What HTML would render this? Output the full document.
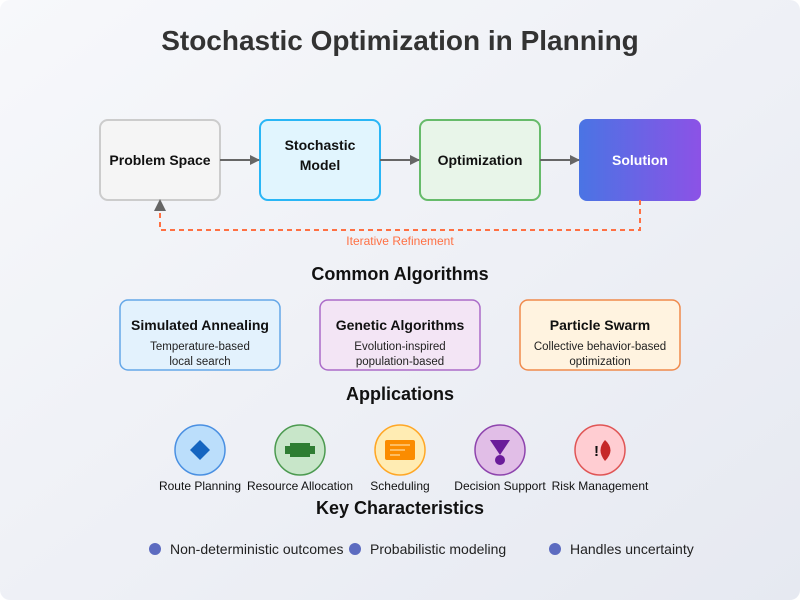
<!DOCTYPE html>
<html><head><meta charset="utf-8"><style>
body{margin:0;width:800px;height:600px;overflow:hidden;font-family:"Liberation Sans",sans-serif}
</style></head><body>
<svg width="800" height="600" xmlns="http://www.w3.org/2000/svg" font-family="Liberation Sans, sans-serif">
<defs>
<linearGradient id="bg" x1="0" y1="0" x2="1" y2="1"><stop offset="0" stop-color="#f7f8fb"/><stop offset="1" stop-color="#e6e9f1"/></linearGradient>
<linearGradient id="sol" x1="0" y1="0" x2="1" y2="0"><stop offset="0" stop-color="#4a74e4"/><stop offset="1" stop-color="#8c52e6"/></linearGradient>
<marker id="ar" markerWidth="10" markerHeight="10" refX="9" refY="5" orient="auto" markerUnits="userSpaceOnUse"><path d="M0,0 L10,5 L0,10z" fill="#666"/></marker>
</defs>
<rect width="800" height="600" rx="10" fill="url(#bg)"/>
<text x="400" y="50" text-anchor="middle" font-size="28" font-weight="bold" fill="#333">Stochastic Optimization in Planning</text>

<rect x="100" y="120" width="120" height="80" rx="8" fill="#f5f5f5" stroke="#ccc" stroke-width="2"/>
<text x="160" y="165" text-anchor="middle" font-size="14" font-weight="bold" fill="#111">Problem Space</text>
<rect x="260" y="120" width="120" height="80" rx="8" fill="#e1f5fe" stroke="#29b6f6" stroke-width="2"/>
<text x="320" y="150" text-anchor="middle" font-size="14" font-weight="bold" fill="#111">Stochastic</text>
<text x="320" y="170" text-anchor="middle" font-size="14" font-weight="bold" fill="#111">Model</text>
<rect x="420" y="120" width="120" height="80" rx="8" fill="#e8f5e9" stroke="#66bb6a" stroke-width="2"/>
<text x="480" y="165" text-anchor="middle" font-size="14" font-weight="bold" fill="#111">Optimization</text>
<rect x="579" y="119" width="122" height="82" rx="8" fill="url(#sol)"/>
<text x="640" y="165" text-anchor="middle" font-size="14" font-weight="bold" fill="#fff">Solution</text>

<g stroke="#666" stroke-width="2" marker-end="url(#ar)">
<line x1="220" y1="160" x2="259" y2="160"/>
<line x1="380" y1="160" x2="419" y2="160"/>
<line x1="540" y1="160" x2="579" y2="160"/>
</g>
<path d="M640,200 V230 H160 V210" fill="none" stroke="#ff7043" stroke-width="2" stroke-dasharray="5,4"/>
<path d="M154,211 L160,199 L166,211z" fill="#666"/>
<text x="400" y="245" text-anchor="middle" font-size="12" fill="#ff7043">Iterative Refinement</text>

<text x="400" y="280" text-anchor="middle" font-size="18" font-weight="bold" fill="#111">Common Algorithms</text>
<rect x="120" y="300" width="160" height="70" rx="8" fill="#e3f2fd" stroke="#64a7e8" stroke-width="1.5"/>
<text x="200" y="330" text-anchor="middle" font-size="14" font-weight="bold" fill="#111">Simulated Annealing</text>
<text x="200" y="350" text-anchor="middle" font-size="11.5" fill="#222">Temperature-based</text>
<text x="200" y="365" text-anchor="middle" font-size="11.5" fill="#222">local search</text>
<rect x="320" y="300" width="160" height="70" rx="8" fill="#f3e5f5" stroke="#ab6bc8" stroke-width="1.5"/>
<text x="400" y="330" text-anchor="middle" font-size="14" font-weight="bold" fill="#111">Genetic Algorithms</text>
<text x="400" y="350" text-anchor="middle" font-size="11.5" fill="#222">Evolution-inspired</text>
<text x="400" y="365" text-anchor="middle" font-size="11.5" fill="#222">population-based</text>
<rect x="520" y="300" width="160" height="70" rx="8" fill="#fff3e0" stroke="#f08a4b" stroke-width="1.5"/>
<text x="600" y="330" text-anchor="middle" font-size="14" font-weight="bold" fill="#111">Particle Swarm</text>
<text x="600" y="350" text-anchor="middle" font-size="11.5" fill="#222">Collective behavior-based</text>
<text x="600" y="365" text-anchor="middle" font-size="11.5" fill="#222">optimization</text>

<text x="400" y="400" text-anchor="middle" font-size="18" font-weight="bold" fill="#111">Applications</text>
<circle cx="200" cy="450" r="25" fill="#bbdefb" stroke="#4a90e2" stroke-width="1.5"/>
<path d="M200,440 L210,450 L200,460 L190,450z" fill="#1565c0"/>
<circle cx="300" cy="450" r="25" fill="#c8e6c9" stroke="#4c9a50" stroke-width="1.5"/>
<path d="M290,443 H310 V446 H315 V454 H310 V457 H290 V454 H285 V446 H290z" fill="#2e7d32"/>
<circle cx="400" cy="450" r="25" fill="#ffecb3" stroke="#ffa726" stroke-width="1.5"/>
<rect x="385" y="440" width="30" height="20" rx="2" fill="#fb8c00"/>
<g stroke="#ffcc80" stroke-width="1.5"><line x1="390" y1="445" x2="410" y2="445"/><line x1="390" y1="450" x2="405" y2="450"/><line x1="390" y1="455" x2="400" y2="455"/></g>
<circle cx="500" cy="450" r="25" fill="#e1bee7" stroke="#8e44ad" stroke-width="1.5"/>
<path d="M490,440 H510 L500,455z" fill="#6a1b9a"/><circle cx="500" cy="460" r="5" fill="#6a1b9a"/>
<circle cx="600" cy="450" r="25" fill="#ffcdd2" stroke="#e05555" stroke-width="1.5"/>
<path d="M605,440 Q616,450 605,461 Q596,450 605,440z" fill="#c62828"/>
<text x="599" y="456" text-anchor="end" font-size="15" font-weight="bold" fill="#111">!</text>
<g font-size="12" fill="#111" text-anchor="middle">
<text x="200" y="490">Route Planning</text><text x="300" y="490">Resource Allocation</text><text x="400" y="490">Scheduling</text><text x="500" y="490">Decision Support</text><text x="600" y="490">Risk Management</text>
</g>

<text x="400" y="514" text-anchor="middle" font-size="18" font-weight="bold" fill="#111">Key Characteristics</text>
<g fill="#5c6bc0"><circle cx="155" cy="549" r="6"/><circle cx="355" cy="549" r="6"/><circle cx="555" cy="549" r="6"/></g>
<g font-size="14" fill="#222">
<text x="170" y="554">Non-deterministic outcomes</text><text x="370" y="554">Probabilistic modeling</text><text x="570" y="554">Handles uncertainty</text>
</g>
</svg>
</body></html>
